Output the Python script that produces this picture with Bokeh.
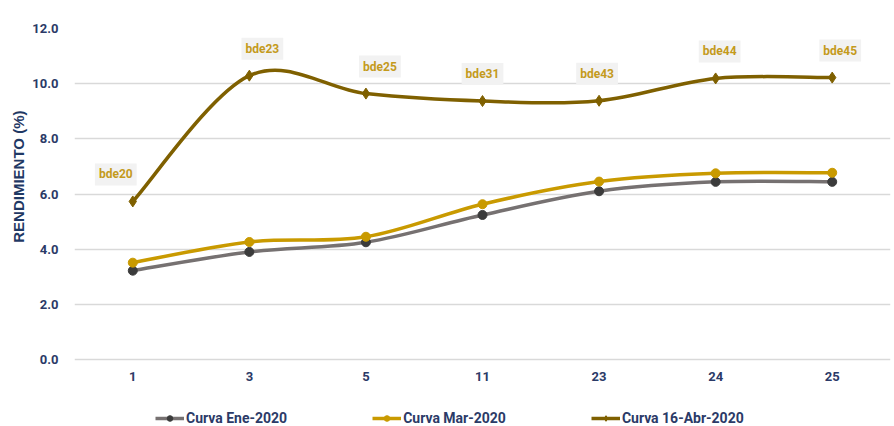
from bokeh.plotting import figure
from bokeh.models import (Range1d, FixedTicker, ColumnDataSource,
                          Legend, LegendItem, Title)
from bokeh.core.properties import value
from bokeh.embed import file_html
from bokeh.resources import INLINE

# Plazos (categorías) y rendimientos por curva
plazos = ["1", "3", "5", "11", "23", "24", "25"]
curva_ene = [3.22, 3.90, 4.25, 5.24, 6.10, 6.44, 6.44]
curva_mar = [3.51, 4.26, 4.45, 5.63, 6.45, 6.75, 6.77]
curva_abr = [5.73, 10.29, 9.64, 9.37, 9.38, 10.19, 10.22]
bonos = ["bde20", "bde23", "bde25", "bde31", "bde43", "bde44", "bde45"]
yticks = [0, 2, 4, 6, 8, 10, 12]

# desplazamientos horizontales de las etiquetas de bonos (px)
etq_dx = [-17, 13, 14, 0, -2, 4, 8]

NAVY = "#2B3A67"
FONT = "Roboto"

W, H = 894, 426
TOP, LEFT, RIGHT = 28, 74, 4
ZONA_INF = 67  # franja inferior para etiquetas del eje x y leyenda

xpos = [i + 0.5 for i in range(len(plazos))]
y_max = yticks[-1]
y_min = -y_max * ZONA_INF / (H - TOP - ZONA_INF)

p = figure(width=W, height=H, output_backend="svg", toolbar_location=None,
           x_range=Range1d(0, len(plazos)), y_range=Range1d(y_min, y_max),
           x_axis_location=None, min_border_left=LEFT,
           min_border_right=RIGHT, min_border_top=TOP, min_border_bottom=0,
           outline_line_color=None)
p.background_fill_color = "white"
p.border_fill_color = "white"

# eje y
p.yaxis.ticker = FixedTicker(ticks=yticks)
p.yaxis.major_label_overrides = {v: f"{v:.1f}" for v in yticks}
p.yaxis.axis_line_color = None
p.yaxis.major_tick_line_color = None
p.yaxis.minor_tick_line_color = None
p.yaxis.major_label_text_color = NAVY
p.yaxis.major_label_text_font = FONT
p.yaxis.major_label_text_font_style = "bold"
p.yaxis.major_label_text_font_size = "13px"
p.yaxis.major_label_standoff = 10

# título del eje y, alineado respecto a la zona de la rejilla
p.add_layout(Title(text="RENDIMIENTO (%)", align="right", offset=82,
                   text_font="Liberation Sans", text_font_style="bold",
                   text_font_size="15px", text_color="#1F3864",
                   standoff=6), "left")

p.xgrid.grid_line_color = None
p.ygrid.grid_line_color = "#D9D9D9"
p.ygrid.grid_line_width = 1.5

# etiquetas de plazo bajo la línea del 0
p.text(x=xpos, y=[0] * len(plazos), text=plazos, y_offset=17,
       text_align="center", text_baseline="middle", text_font=value(FONT),
       text_font_style="bold", text_font_size="13px", text_color=NAVY)


def suavizado(xs, ys):
    """Segmentos Bézier tipo Catmull-Rom (línea suavizada)."""
    n = len(xs)
    seg = dict(x0=[], y0=[], x1=[], y1=[], cx0=[], cy0=[], cx1=[], cy1=[])
    for i in range(n - 1):
        a = max(i - 1, 0)
        d = min(i + 2, n - 1)
        seg["x0"].append(xs[i]); seg["y0"].append(ys[i])
        seg["x1"].append(xs[i + 1]); seg["y1"].append(ys[i + 1])
        seg["cx0"].append(xs[i] + (xs[i + 1] - xs[a]) / 6)
        seg["cy0"].append(ys[i] + (ys[i + 1] - ys[a]) / 6)
        seg["cx1"].append(xs[i + 1] - (xs[d] - xs[i]) / 6)
        seg["cy1"].append(ys[i + 1] - (ys[d] - ys[i]) / 6)
    return ColumnDataSource(seg)


series = [
    ("Curva Ene-2020", curva_ene, "#767171", "#3B3B3B", "circle", 9),
    ("Curva Mar-2020", curva_mar, "#C99A00", "#C99A00", "circle", 9),
    ("Curva 16-Abr-2020", curva_abr, "#7F6000", "#7F6000", "diamond", 11),
]

items = []
for nombre, vals, lc, mc, mk, sz in series:
    curva = p.bezier(x0="x0", y0="y0", x1="x1", y1="y1", cx0="cx0",
                     cy0="cy0", cx1="cx1", cy1="cy1",
                     source=suavizado(xpos, vals), line_color=lc,
                     line_width=3.5)
    pts = p.scatter(xpos, vals, marker=mk, size=sz, fill_color=mc,
                    line_color=mc)
    items.append(LegendItem(label=nombre, renderers=[curva, pts]))

# etiquetas de bonos sobre la curva de abril
src = ColumnDataSource(dict(x=xpos, y=curva_abr, t=bonos, dx=etq_dx))
p.text(x="x", y="y", text="t", source=src, x_offset="dx", y_offset=-27,
       text_align="center", text_baseline="middle", text_font=value(FONT),
       text_font_style="bold", text_font_size="12px", text_color="#C49A1C",
       background_fill_color="#F2F2F2", padding=4)

legend = Legend(items=items, orientation="horizontal", location=(81, 0),
                spacing=85, label_standoff=2, glyph_width=29,
                glyph_height=14, label_height=14, label_text_font=FONT,
                label_text_font_style="bold",
                label_text_font_size="14px", label_text_color=NAVY,
                border_line_color=None, background_fill_alpha=0,
                padding=0, margin=0)
p.add_layout(legend, "center")

open("out.html", "w").write(file_html(p, INLINE))
